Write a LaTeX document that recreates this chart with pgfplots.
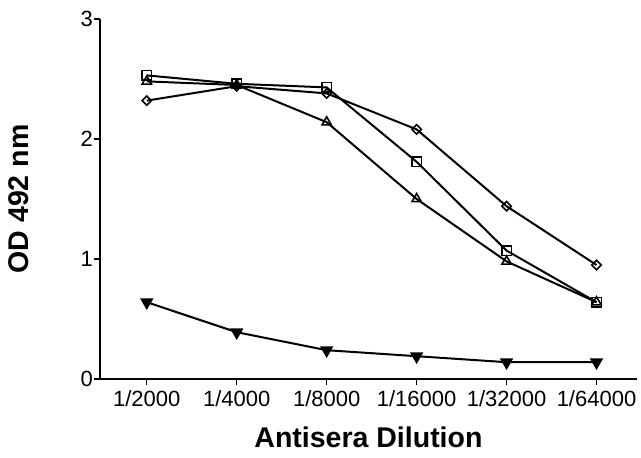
\documentclass[border=0pt]{standalone}
\usepackage{fontspec}
\setmainfont{Liberation Sans}
\usepackage{pgfplots}
\pgfplotsset{compat=1.18}
\begin{document}
\begin{tikzpicture}
\begin{axis}[
  scale only axis,
  width=537pt, height=360pt,
  xmin=-0.52, xmax=5.45,
  ymin=0, ymax=3,
  axis lines=left,
  axis line style={line width=1.5pt, -},
  xtick={0,1,2,3,4,5},
  xticklabels={1/2000,1/4000,1/8000,1/16000,1/32000,1/64000},
  ytick={0,1,2,3},
  tick align=outside,
  major tick length=6pt,
  tick style={line width=1.3pt, black},
  /pgf/number format/assume math mode=true,
  tick label style={font=\fontsize{22}{25}\selectfont},
  yticklabel style={inner sep=1pt},
  xticklabel style={inner sep=2pt, yshift=-3pt},
  xlabel={Antisera Dilution},
  ylabel={OD 492 nm},
  xlabel style={font=\bfseries\fontsize{28.5}{32}\selectfont, at={(axis description cs:0.5,-0.161)}, anchor=center},
  ylabel style={font=\bfseries\fontsize{28.5}{32}\selectfont, at={(axis description cs:-0.152,0.5)}, anchor=center},
  every axis plot/.append style={line width=2pt, black},
  clip=false,
]
\addplot[mark=triangle, mark size=5.4pt, mark options={fill=white, solid, line width=1.6pt}] coordinates {
(0,2.48) (1,2.45) (2,2.14) (3,1.50) (4,0.98) (5,0.64)};
\addplot[mark=square, mark size=4.8pt, mark options={fill=white, solid, line width=1.6pt}] coordinates {
(0,2.53) (1,2.46) (2,2.43) (3,1.81) (4,1.07) (5,0.64)};
\addplot[mark=square, mark size=3.3pt, mark options={rotate=45, fill=white, solid, line width=1.6pt}] coordinates {
(0,2.32) (1,2.44) (2,2.38) (3,2.08) (4,1.44) (5,0.95)};
\addplot[mark=triangle*, mark size=5.8pt, mark options={rotate=180, fill=black, solid}] coordinates {
(0,0.64) (1,0.39) (2,0.24) (3,0.19) (4,0.14) (5,0.14)};
\end{axis}
\path (current axis.south west) ++(-100pt,-79pt) rectangle ++(641pt,458pt);
\end{tikzpicture}
\end{document}
